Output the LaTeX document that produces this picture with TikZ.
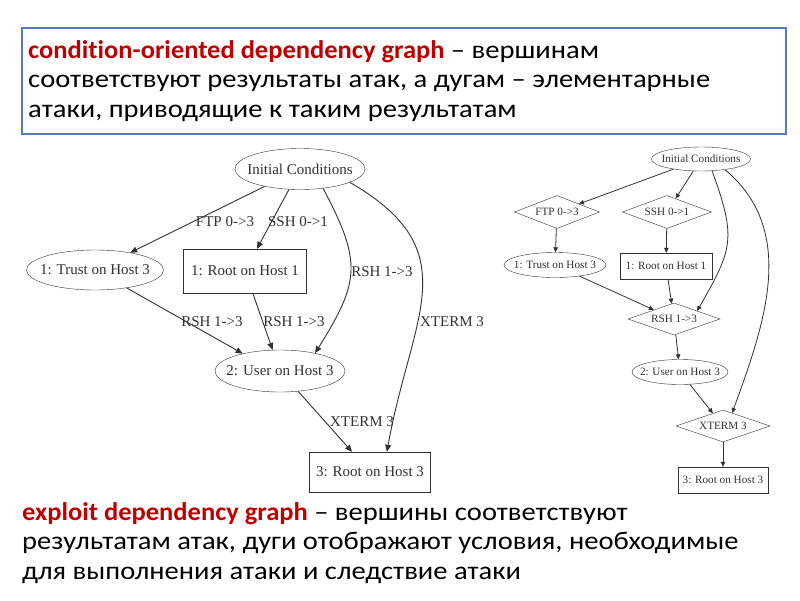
\documentclass[tikz,border=0pt]{standalone}
\usepackage{fontspec}
\setmainfont{Liberation Serif}
\newfontfamily\calib[Ligatures=NoCommon,FakeStretch=1.12,BoldFeatures={FakeStretch=1.04}]{Carlito}
\usepackage{tikz}
\usetikzlibrary{shapes.geometric,arrows.meta}
\definecolor{boxblue}{RGB}{84,125,186}
\definecolor{termred}{RGB}{192,0,0}
\definecolor{gline}{RGB}{50,50,50}
\newcommand{\gvtext}[1]{\makebox[0pt]{#1}}

\begin{document}
\begin{tikzpicture}[x=1pt,y=-1pt,
    el/.style={draw=gline,ellipse,inner sep=0pt,text=gline},
    bx/.style={draw=gline,rectangle,inner sep=0pt,text=gline},
    dm/.style={draw=gline,diamond,inner sep=0pt,text=gline},
    big/.style={font=\fontsize{15}{17}\selectfont},
    small/.style={font=\fontsize{11.2}{13}\selectfont},
    lab/.style={big,text=gline,inner sep=0pt},
    arr/.style={draw=gline,line width=0.9pt,-{Triangle[length=7pt,width=6pt]}},
    arrs/.style={draw=gline,line width=0.8pt,-{Triangle[length=5pt,width=4.5pt]}},
    txt/.style={font=\calib\fontsize{25.5}{29.5}\selectfont,align=left,anchor=west,inner sep=0pt}]
    \fill[white] (0,0) rectangle (800,600);
    \useasboundingbox (0,0) rectangle (800,600);

    \draw[boxblue,line width=2pt] (22,28) rectangle (786,134);
    \node[txt] (top) at (28,81) {\textcolor{termred}{\textbf{condition-oriented dependency graph}} – вершинам\\
        соответствуют результаты атак, а дугам – элементарные\\
        атаки, приводящие к таким результатам};
    \node[txt] (bottom) at (22,543) {\textcolor{termred}{\textbf{exploit dependency graph}} – вершины соответствуют\\
        результатам атак, дуги отображают условия, необходимые\\
        для выполнения атаки и следствие атаки};

    \node[el,big,minimum width=130pt,minimum height=41pt] (ic) at (300,169) {\gvtext{Initial Conditions}};
    \node[el,big,minimum width=137pt,minimum height=40pt] (t1) at (95,270) {\gvtext{1: Trust on Host 3}};
    \node[bx,big,minimum width=123pt,minimum height=44pt] (r1) at (245,271) {\gvtext{1: Root on Host 1}};
    \node[el,big,minimum width=130pt,minimum height=42pt] (u2) at (280,371) {\gvtext{2: User on Host 3}};
    \node[bx,big,minimum width=121pt,minimum height=40pt] (r3) at (370,472) {\gvtext{3: Root on Host 3}};

    \node[lab] (lftp) at (225,222) {FTP 0->3};
    \node[lab] (lssh) at (298,222) {SSH 0->1};
    \node[lab] (lrsh) at (382,272) {RSH 1->3};
    \node[lab] (lxt) at (452,322) {XTERM 3};
    \node[lab] (lrsha) at (212,322) {RSH 1->3};
    \node[lab] (lrshb) at (294,322) {RSH 1->3};
    \node[lab] (lxtb) at (362,422) {XTERM 3};

    \draw[arr] (ic) -- (t1);
    \draw[arr] (ic) -- (r1);
    \draw[arr] (ic.-40) to[out=-62,in=58,looseness=1.3] (u2.27);
    \draw[arr] (ic.-15) to[out=-30,in=80,looseness=1.3] (r3.50);
    \draw[arr] (t1) -- (u2.155);
    \draw[arr] (r1) -- (u2);
    \draw[arr] (u2) -- (r3);

    \node[el,small,minimum width=99pt,minimum height=24pt] (ic2) at (701,159) {\gvtext{Initial Conditions}};
    \node[dm,small,minimum width=85pt,minimum height=33pt] (ftp) at (557,212) {\gvtext{FTP 0->3}};
    \node[dm,small,minimum width=89pt,minimum height=33pt] (ssh) at (667,212) {\gvtext{SSH 0->1}};
    \node[el,small,minimum width=102pt,minimum height=25pt] (t1b) at (555,265) {\gvtext{1: Trust on Host 3}};
    \node[bx,small,minimum width=92pt,minimum height=26pt] (r1b) at (666,266) {\gvtext{1: Root on Host 1}};
    \node[dm,small,minimum width=92pt,minimum height=32pt] (rsh) at (674,319) {\gvtext{RSH 1->3}};
    \node[el,small,minimum width=96pt,minimum height=25pt] (u2b) at (680,372) {\gvtext{2: User on Host 3}};
    \node[dm,small,minimum width=94pt,minimum height=32pt] (xterm) at (723,426) {\gvtext{XTERM 3}};
    \node[bx,small,minimum width=90pt,minimum height=26pt] (r3b) at (723,480) {\gvtext{3: Root on Host 3}};

    \draw[arrs] (ic2) -- (ftp);
    \draw[arrs] (ic2) -- (ssh);
    \draw[arrs] (ic2.-47) to[out=-70,in=60,looseness=1.3] (rsh.north east);
    \draw[arrs] (ic2.-24) to[out=-40,in=70] (xterm.55);
    \draw[arrs] (ftp) -- (t1b);
    \draw[arrs] (ssh) -- (r1b);
    \draw[arrs] (t1b) -- (rsh);
    \draw[arrs] (r1b) -- (rsh);
    \draw[arrs] (rsh) -- (u2b);
    \draw[arrs] (u2b) -- (xterm);
    \draw[arrs] (xterm) -- (r3b);
\end{tikzpicture}
\end{document}
